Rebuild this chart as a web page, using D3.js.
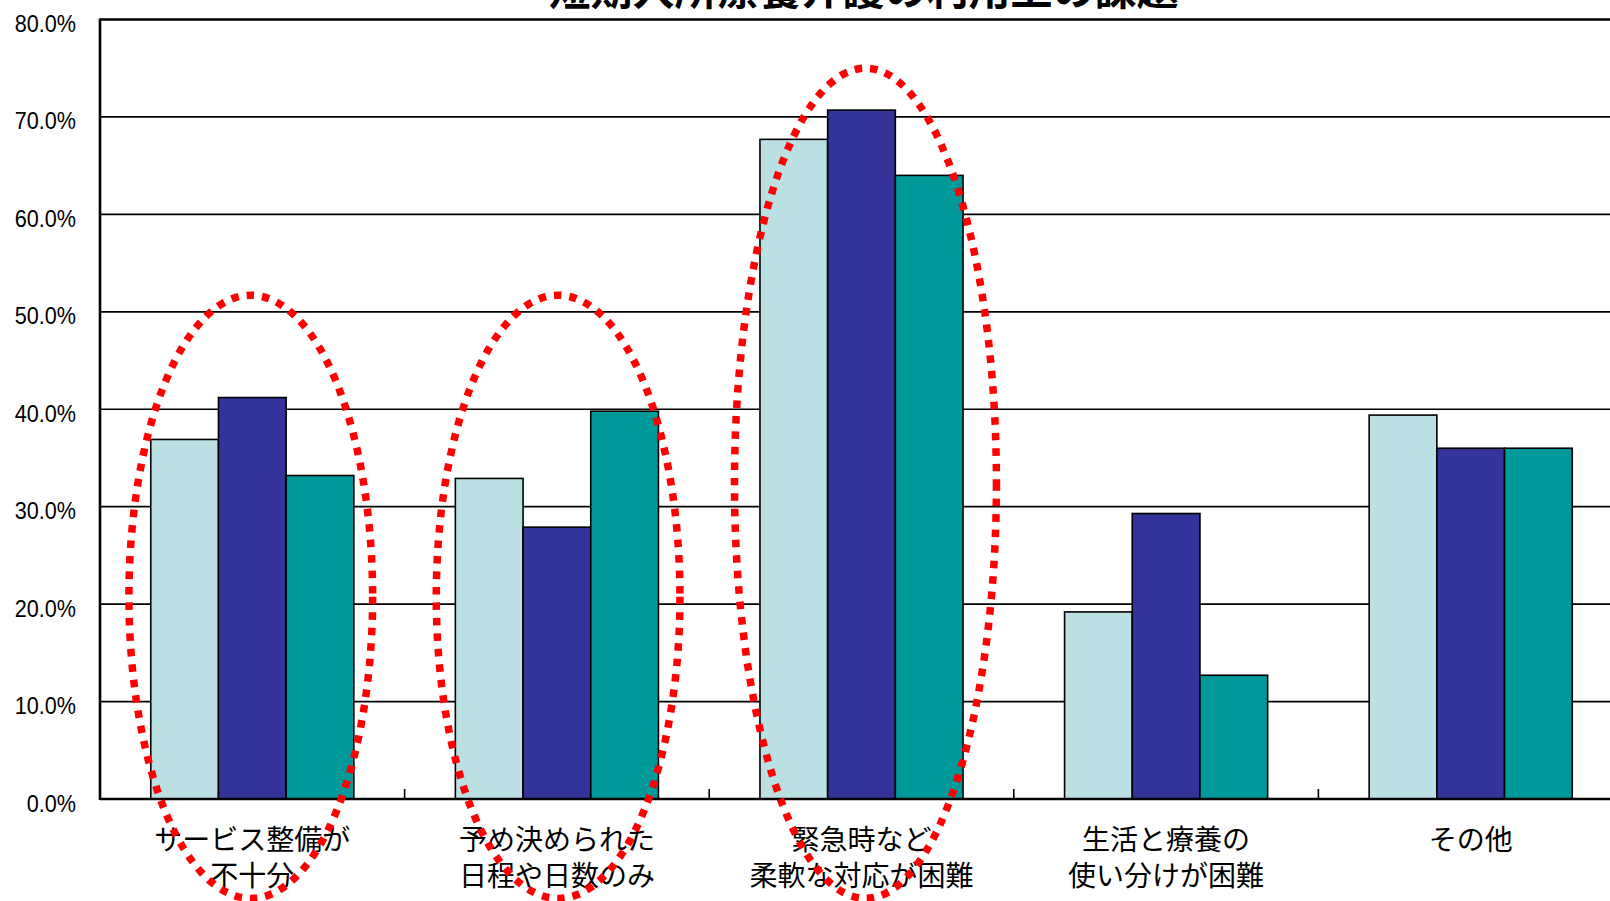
<!DOCTYPE html>
<html lang="ja">
<head>
<meta charset="utf-8">
<script src="https://cdn.jsdelivr.net/npm/d3@7"></script>
<style>
  html, body { margin: 0; padding: 0; background: #fff; }
  svg { display: block; }
</style>
</head>
<body>
<svg id="chart" width="1610" height="901"></svg>
<script>
// Chart data
const chartTitle = "短期入所療養介護の利用上の課題";
const categories = [
  "サービス整備が\n不十分",
  "予め決められた\n日程や日数のみ",
  "緊急時など\n柔軟な対応が困難",
  "生活と療養の\n使い分けが困難",
  "その他"
];
const seriesNames = ["series1", "series2", "series3"];
const series1Values = [36.9, 32.9, 67.7, 19.2, 39.4];
const series2Values = [41.2, 27.9, 70.7, 29.3, 36.0];
const series3Values = [33.2, 39.8, 64.0, 12.7, 36.0];
const yTickValues = [0, 10, 20, 30, 40, 50, 60, 70, 80];
const yTickLabels = ["0.0%", "10.0%", "20.0%", "30.0%", "40.0%", "50.0%", "60.0%", "70.0%", "80.0%"];

// Highlighted categories (circled with a dotted ellipse), extents in value units
const highlightCategories = [0, 1, 2];
const highlightTop = [51.7, 51.7, 75.0];
const highlightBottom = [-10.2, -10.2, -10.2];

// Layout and styles
const W = 1610, H = 901;
const plotLeft = 100, plotTop = 19.5, plotBottom = 799;
const bandStep = 304.6;
const plotRight = plotLeft + bandStep * categories.length;
const colors = ["#bbe0e3", "#333399", "#009999"];
const ellipseWidth = [0.40, 0.40, 0.43];   // half-width as fraction of band
const ellipseShift = [-0.005, 0.004, 0.013]; // horizontal shift as fraction of band

const svg = d3.select("#chart");

const x = d3.scaleBand().domain(categories).range([plotLeft, plotRight]).paddingInner(0).paddingOuter(0);
const xInner = d3.scaleBand().domain(seriesNames).range([0, x.bandwidth()]).paddingInner(0).paddingOuter(0.75);
const y = d3.scaleLinear().domain([0, 80]).range([plotBottom, plotTop]);

const values = [series1Values, series2Values, series3Values];

// Horizontal gridlines
svg.append("g")
  .selectAll("line")
  .data(yTickValues.filter(v => v > 0))
  .join("line")
  .attr("x1", plotLeft).attr("x2", plotRight)
  .attr("y1", d => y(d)).attr("y2", d => y(d))
  .attr("stroke", "#000")
  .attr("stroke-width", d => d === 80 ? 2.6 : 1.7);

// Bars
const groups = svg.append("g")
  .selectAll("g")
  .data(categories)
  .join("g")
  .attr("transform", d => `translate(${x(d)},0)`);

groups.selectAll("rect")
  .data((d, i) => seriesNames.map((s, k) => ({ s, k, v: values[k][i] })))
  .join("rect")
  .attr("x", d => xInner(d.s))
  .attr("width", xInner.bandwidth())
  .attr("y", d => y(d.v))
  .attr("height", d => y(0) - y(d.v))
  .attr("fill", d => colors[d.k])
  .attr("stroke", "#000")
  .attr("stroke-width", 1.6);

// Y axis with percent labels
const yAxis = d3.axisLeft(y)
  .tickValues(yTickValues)
  .tickFormat((d, i) => yTickLabels[i])
  .tickSize(0)
  .tickPadding(0);

const yAxisG = svg.append("g")
  .attr("transform", `translate(${plotLeft},0)`)
  .call(yAxis);
yAxisG.select(".domain").remove();
// Slightly condensed, tall numerals
yAxisG.selectAll(".tick text")
  .attr("x", 0)
  .attr("dy", "0.5em")
  .attr("font-family", "'Liberation Sans', Arial, sans-serif")
  .attr("font-size", 24)
  .attr("fill", "#000")
  .attr("transform", "translate(-24,0) scale(0.9,1)");

svg.append("line")
  .attr("x1", plotLeft).attr("x2", plotLeft)
  .attr("y1", plotTop - 1).attr("y2", plotBottom + 1)
  .attr("stroke", "#000").attr("stroke-width", 2.6);

// X axis with category labels and inner tick marks
const xAxisG = svg.append("g");
xAxisG.append("line")
  .attr("x1", plotLeft).attr("x2", plotRight)
  .attr("y1", plotBottom).attr("y2", plotBottom)
  .attr("stroke", "#000").attr("stroke-width", 2.6);

xAxisG.selectAll("line.tick")
  .data(categories.slice(1))
  .join("line")
  .attr("class", "tick")
  .attr("x1", d => x(d)).attr("x2", d => x(d))
  .attr("y1", plotBottom).attr("y2", plotBottom - 10)
  .attr("stroke", "#000").attr("stroke-width", 1.6);

const catLabels = xAxisG.selectAll("text")
  .data(categories)
  .join("text")
  .attr("x", d => x(d) + x.bandwidth() / 2)
  .attr("y", 840)
  .attr("text-anchor", "middle")
  .attr("font-family", "'Noto Sans CJK JP', 'Noto Sans', sans-serif")
  .attr("font-size", 28)
  .attr("fill", "#000");

catLabels.selectAll("tspan")
  .data(d => d.split("\n"))
  .join("tspan")
  .attr("x", function () { return d3.select(this.parentNode).attr("x"); })
  .attr("dy", (d, i) => i === 0 ? "0.35em" : 36)
  .text(d => d);

// Title (partly above the top edge)
svg.append("text")
  .attr("x", (plotLeft + plotRight) / 2 + 2)
  .attr("y", 5)
  .attr("text-anchor", "middle")
  .attr("font-family", "'Noto Sans CJK JP', sans-serif")
  .attr("font-size", 42)
  .attr("font-weight", "bold")
  .attr("fill", "#000")
  .text(chartTitle);

// Dotted ellipses around highlighted categories
svg.append("g")
  .selectAll("ellipse")
  .data(highlightCategories.map((c, i) => ({ c, i })))
  .join("ellipse")
  .attr("cx", d => x(categories[d.c]) + x.bandwidth() * (0.5 + ellipseShift[d.i]))
  .attr("cy", d => (y(highlightTop[d.i]) + y(highlightBottom[d.i])) / 2)
  .attr("rx", d => x.bandwidth() * ellipseWidth[d.i])
  .attr("ry", d => (y(highlightBottom[d.i]) - y(highlightTop[d.i])) / 2)
  .attr("fill", "none")
  .attr("stroke", "#ff0000")
  .attr("stroke-width", 7.5)
  .attr("stroke-dasharray", "7.5 8");
</script>
</body>
</html>
